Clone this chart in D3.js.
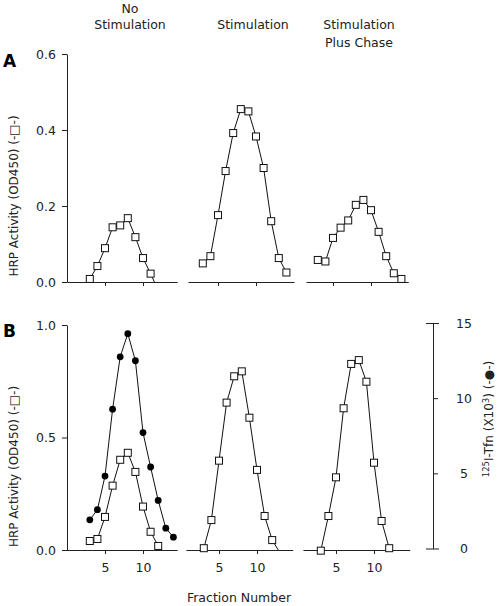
<!DOCTYPE html>
<html><head><meta charset="utf-8">
<script src="https://cdn.jsdelivr.net/npm/d3@7/dist/d3.min.js"></script>
<style>
body{margin:0;background:#fff}
text{font-family:"DejaVu Sans",sans-serif;fill:#222}
</style>
</head><body><svg id="c" width="498" height="606"></svg>
<script>
// ---------- DATA ----------
const columnTitles = [["No","Stimulation"],["Stimulation"],["Stimulation","Plus Chase"]];
const fractionsA1 = [3,4,5,6,7,8,9,10,11];
const hrpA_noStim = [0.008,0.042,0.089,0.144,0.149,0.168,0.118,0.063,0.022];
const tailA_noStim = [[11.5,0]];
const fractionsA2 = [3,4,5,6,7,8,9,10,11,12,13,14];
const hrpA_stim = [0.049,0.068,0.176,0.292,0.392,0.455,0.449,0.383,0.300,0.160,0.063,0.025];
const fractionsA3 = [3,4,5,6,7,8,9,10,11,12,13,14];
const hrpA_chase = [0.058,0.054,0.116,0.143,0.162,0.203,0.216,0.189,0.132,0.068,0.023,0.008];

const fractionsB1 = [3,4,5,6,7,8,9,10,11,12];
const hrpB_noStim = [0.040,0.049,0.147,0.286,0.401,0.432,0.347,0.193,0.081,0.018];
const fractionsTfn = [3,4,5,6,7,8,9,10,11,12,13,14];
const tfnB_noStim = [1.91,2.58,4.82,9.27,12.75,14.29,12.49,7.71,5.42,3.20,1.35,0.75];
const fractionsB2 = [3,4,5,6,7,8,9,10,11,12];
const hrpB_stim = [0.008,0.133,0.397,0.655,0.772,0.794,0.588,0.356,0.151,0.044];
const tailB_stim = [[12.8,0]];
const fractionsB3 = [3,4,5,6,7,8,9,10,11,12];
const hrpB_chase = [-0.003,0.151,0.323,0.630,0.827,0.844,0.748,0.388,0.129,0.008];

const xTicks = [5,10];
const yTicksA = [0,0.2,0.4,0.6];
const yTicksB = [0,0.5,1.0];
const yTicksTfn = [0,5,10,15];

// ---------- LAYOUT ----------
const svg = d3.select("#c");
const unit = 7.6;
const rows = [
  {top:54, bottom:282, ymax:0.6, ticks:yTicksA, letter:"A", letterY:67,
   origins:[67,180,295], extents:[[0,14.5],[1.05,15],[1.45,14.9]], labels:false,
   series:[
     [{f:fractionsA1, v:hrpA_noStim, tail:tailA_noStim, type:"sq"}],
     [{f:fractionsA2, v:hrpA_stim, type:"sq"}],
     [{f:fractionsA3, v:hrpA_chase, type:"sq"}]
   ]},
  {top:325, bottom:550, ymax:1.0, ticks:yTicksB, letter:"B", letterY:337,
   origins:[67,181,298], extents:[[-0.1,14.5],[0.65,14.7],[0.65,14.7]], labels:true,
   series:[
     [{f:fractionsTfn, v:tfnB_noStim, type:"ci"},{f:fractionsB1, v:hrpB_noStim, type:"sq"}],
     [{f:fractionsB2, v:hrpB_stim, tail:tailB_stim, type:"sq"}],
     [{f:fractionsB3, v:hrpB_chase, type:"sq"}]
   ]}
];
const yR = d3.scaleLinear().domain([0,15]).range([548.5,323]);

rows.forEach((row,ri)=>{
  const y = d3.scaleLinear().domain([0,row.ymax]).range([row.bottom,row.top]);
  const ax = svg.append("g").attr("transform",`translate(${row.origins[0]},0)`)
    .call(d3.axisLeft(y).tickValues(row.ticks).tickFormat(d3.format(".1f")).tickSize(5).tickSizeOuter(0).tickPadding(6));
  ax.selectAll("text").attr("font-size",12.5).attr("font-family","DejaVu Sans");
  ax.selectAll("path,line").attr("stroke","#222");
  svg.append("text").attr("x",3).attr("y",row.letterY).attr("font-size",17).attr("font-weight","bold").style("fill","#000").text(row.letter);
  svg.append("text").attr("transform",`translate(18,${(row.top+row.bottom)/2+ (ri?29:28)}) rotate(-90)`)
    .attr("text-anchor","middle").attr("font-size",12).text("HRP Activity (OD450) (-\u25A1-)");

  row.origins.forEach((o,pi)=>{
    const ext = row.extents[pi];
    const x = d3.scaleLinear().domain(ext).range([o+unit*ext[0], o+unit*ext[1]]);
    const xa = svg.append("g").attr("transform",`translate(0,${row.bottom})`)
      .call(d3.axisBottom(x).tickValues(xTicks).tickSize(4).tickSizeOuter(0).tickPadding(9)
        .tickFormat(row.labels? d3.format("d") : ()=>""));
    xa.selectAll("text").attr("font-size",12.5).attr("font-family","DejaVu Sans");
    xa.selectAll("path,line").attr("stroke","#222");

    const g = svg.append("g");
    row.series[pi].forEach(s=>{
      const yy = s.type==="ci" ? yR : y;
      let pts = s.f.map((f,i)=>[f,s.v[i]]);
      const linePts = s.tail ? pts.concat(s.tail) : pts;
      g.append("path").datum(linePts)
        .attr("d",d3.line().x(d=>x(d[0])).y(d=>yy(d[1])))
        .attr("fill","none").attr("stroke","#111").attr("stroke-width",1);
      if(s.type==="sq"){
        g.selectAll(null).data(pts).join("rect")
          .attr("x",d=>x(d[0])-3.5).attr("y",d=>yy(d[1])-3.5)
          .attr("width",7).attr("height",7)
          .attr("fill","#fff").attr("stroke","#111").attr("stroke-width",1);
      } else {
        g.selectAll(null).data(pts).join("circle")
          .attr("cx",d=>x(d[0])).attr("cy",d=>yy(d[1])).attr("r",3.4)
          .attr("fill","#000");
      }
    });
  });
});

// column titles
const titleX = [130,253,359];
columnTitles.forEach((t,i)=>{
  const start = i===0 ? 13 : 29;
  const gap = i===0 ? 16 : 18;
  t.forEach((line,j)=>{
    svg.append("text").attr("x",titleX[i]).attr("y",start+gap*j)
      .attr("text-anchor","middle").attr("font-size",12.5).text(line);
  });
});

// right axis
const ra = svg.append("g").attr("transform","translate(433,0)")
  .call(d3.axisRight(yR).tickValues(yTicksTfn).tickSize(5).tickSizeOuter(0).tickPadding(26));
ra.selectAll("path,line").attr("stroke","#222");
ra.selectAll(".tick").filter(d=>d===0||d===15).select("line").attr("x1",-7).attr("x2",6);
ra.selectAll("text").attr("font-size",12.5).attr("font-family","DejaVu Sans").attr("text-anchor","middle").attr("x",31);

const rl = svg.append("text").attr("transform","translate(493,419) rotate(-90)")
  .attr("text-anchor","middle").attr("font-size",12);
rl.append("tspan").attr("font-size",8.5).attr("dy",-4).text("125");
rl.append("tspan").attr("dy",4).text("I-Tfn (X10");
rl.append("tspan").attr("font-size",8.5).attr("dy",-4).text("3");
rl.append("tspan").attr("dy",4).text(") (-\u25CF-)");

svg.append("text").attr("x",239).attr("y",602).attr("text-anchor","middle").attr("font-size",12.5).text("Fraction Number");
</script>
</body></html>
